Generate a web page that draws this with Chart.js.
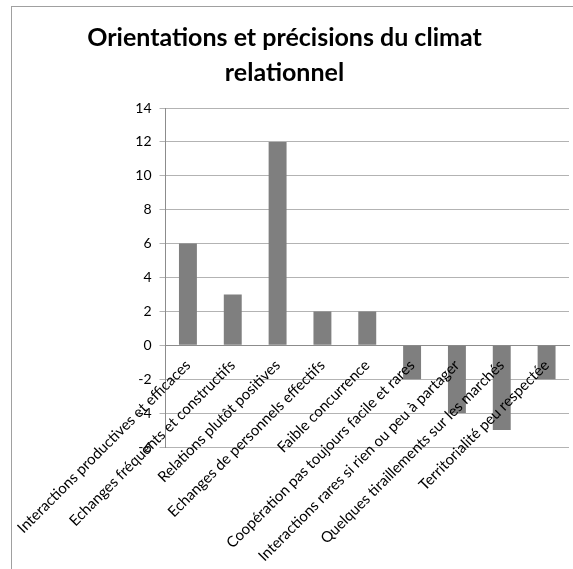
<!DOCTYPE html>
<html lang="fr">
<head>
<meta charset="utf-8">
<title>Climat relationnel</title>
<script src="https://cdn.jsdelivr.net/npm/chart.js@4/dist/chart.umd.min.js"></script>
<style>
  html, body { margin: 0; padding: 0; background: #fff; overflow: hidden; }
  #frame {
    position: absolute; left: 11px; top: 6px; width: 700px; height: 700px;
    border-left: 1px solid #a0a0a0; border-top: 1px solid #a0a0a0;
  }
  #chart { position: absolute; left: 0; top: 0; }
</style>
</head>
<body>
<div id="frame"></div>
<canvas id="chart" width="573" height="569"></canvas>
<script>
// Climat relationnel : nombre de mentions par orientation
const categories = [
  'Interactions productives et efficaces',
  'Echanges fréquents et constructifs',
  'Relations plutôt positives',
  'Echanges de personnels effectifs',
  'Faible concurrence',
  'Coopération pas toujours facile et rares',
  'Interactions rares si rien ou peu à partager',
  'Quelques tiraillements sur les marchés',
  'Territorialité peu respectée'
];
const values = [6, 3, 12, 2, 2, -2, -4, -5, -2];
const titleLines = ['Orientations et précisions du climat', 'relationnel'];
const yMin = -6, yMax = 14, yStep = 2;

const FONT = 'Lato, "Open Sans", sans-serif';

new Chart(document.getElementById('chart'), {
  type: 'bar',
  data: {
    labels: categories,
    datasets: [{
      data: values,
      backgroundColor: '#7f7f7f',
      borderWidth: 0,
      barPercentage: 0.4,
      categoryPercentage: 1
    }]
  },
  options: {
    responsive: false,
    animation: false,
    layout: { padding: { left: 0, right: 4, top: 0, bottom: 122 } },
    plugins: {
      legend: { display: false },
      tooltip: { enabled: false },
      title: {
        display: true,
        text: titleLines,
        color: '#000',
        font: { family: FONT, size: 25, weight: 'bold', lineHeight: 1.4 },
        padding: { top: 20, bottom: 18 }
      }
    },
    scales: {
      // category labels sit on the zero line and are painted over the bars
      x: {
        position: { y: 0 },
        grid: { display: false, drawTicks: false },
        border: { display: true, color: '#8c8c8c' },
        ticks: {
          z: 1,
          autoSkip: false,
          minRotation: 45,
          maxRotation: 45,
          padding: 11,
          color: '#000',
          font: { family: FONT, size: 15 }
        }
      },
      y: {
        min: yMin,
        max: yMax,
        grid: { color: '#b3b3b3', tickLength: 6 },
        border: { color: '#8c8c8c' },
        ticks: {
          stepSize: yStep,
          padding: 8,
          color: '#000',
          font: { family: FONT, size: 14 }
        },
        afterFit: s => { s.width = 164; }
      }
    }
  }
});
</script>
</body>
</html>
